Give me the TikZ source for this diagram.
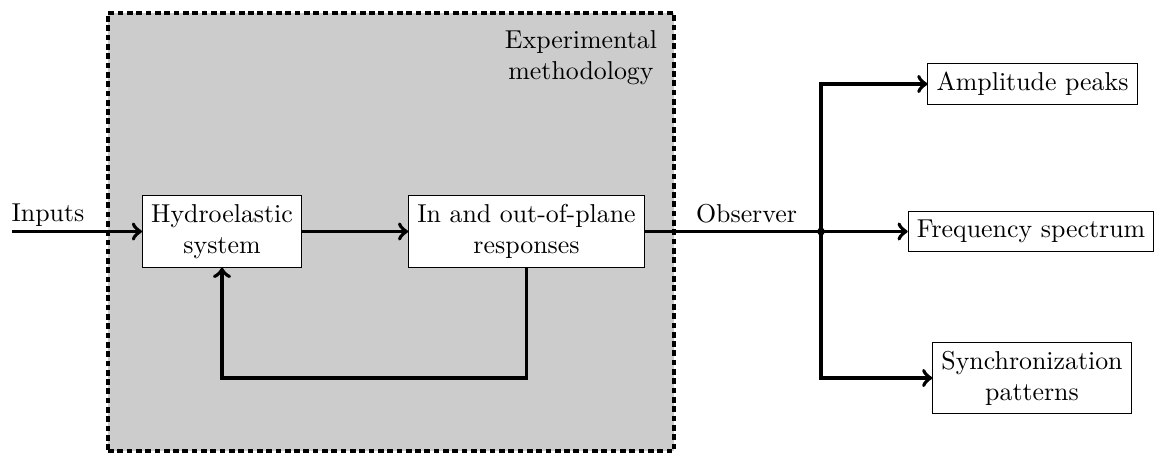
\documentclass[tikz,border=0pt]{standalone}
\begin{document}
\begin{tikzpicture}[x=0.3867pt,y=-0.3867pt,
  blk/.style={draw,fill=white,line width=0.4pt,align=center},
  conn/.style={line width=1.5pt,->},
  wire/.style={line width=1.5pt},
  expbox/.style={draw=black,fill=gray!40,line width=1.6pt,dash pattern=on 2.2pt off 1.4pt,minimum width=218.9pt,minimum height=169.4pt,inner sep=0pt}]
\useasboundingbox (0,0) rectangle (1154,454);
\node[expbox] (exp) at (391,232) {};
\node[align=center] (explbl) at (581,58) {Experimental\\methodology};
\node[blk] (hs) at (222,231.5) {Hydroelastic\\system};
\node[blk] (io) at (526.5,231.5) {In and out-of-plane\\responses};
\node[blk] (amp) at (1032.5,84) {Amplitude peaks};
\node[blk] (freq) at (1031,231.5) {Frequency spectrum};
\node[blk] (sync) at (1032,378) {Synchronization\\patterns};
\coordinate (in) at (12,231.5);
\coordinate (br) at (821,231.5);
\node[anchor=base] (inl) at (48,221) {Inputs};
\node[anchor=base] (obs) at (746.5,222) {Observer};
\draw[conn] (in) -- (hs.west);
\draw[conn] (hs.east) -- (io.west);
\draw[wire] (io.east) -- (br);
\draw[conn] (io.south) -- (io.south |- sync) -| (hs.south);
\draw[conn] (br) |- (amp.west);
\draw[conn] (br) |- (sync.west);
\draw[conn] (br) -- (freq.west);
\fill (br) circle (1.5pt);
\end{tikzpicture}
\end{document}
